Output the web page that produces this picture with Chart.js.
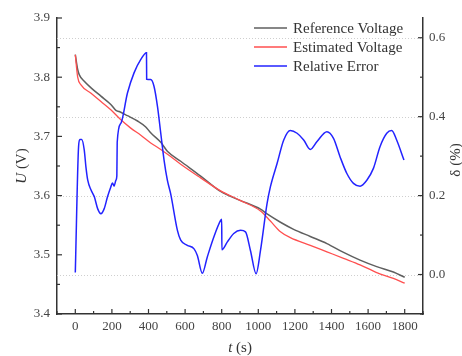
<!DOCTYPE html>
<html>
<head>
<meta charset="utf-8">
<script src="https://cdn.jsdelivr.net/npm/chart.js@4/dist/chart.umd.min.js"></script>
<style>
  html, body { margin: 0; padding: 0; background: #fff; }
  #wrap { width: 462px; height: 356px; }
</style>
</head>
<body>
<div id="wrap"><canvas id="voltChart" width="462" height="356"></canvas></div>
<script>
// values: time in s, voltage in V, error in %
const tRef = [0, 13, 22, 49, 86, 140, 194, 222, 240, 285, 340, 385, 412, 467, 503, 576, 685, 794, 900, 1012, 1048, 1121, 1193, 1284, 1375, 1466, 1556, 1647, 1738, 1800];
const uRef = [3.838, 3.813, 3.804, 3.793, 3.782, 3.768, 3.754, 3.744, 3.742, 3.735, 3.726, 3.716, 3.706, 3.690, 3.675, 3.658, 3.633, 3.607, 3.592, 3.577, 3.569, 3.555, 3.543, 3.531, 3.519, 3.504, 3.491, 3.480, 3.471, 3.462];

const tEst = [0, 13, 31, 86, 140, 194, 249, 303, 358, 412, 467, 521, 576, 685, 794, 900, 1012, 1066, 1121, 1175, 1284, 1375, 1466, 1556, 1647, 1738, 1800];
const uEst = [3.838, 3.800, 3.787, 3.773, 3.759, 3.745, 3.728, 3.714, 3.702, 3.689, 3.678, 3.666, 3.653, 3.630, 3.608, 3.592, 3.574, 3.557, 3.539, 3.529, 3.516, 3.505, 3.494, 3.483, 3.470, 3.460, 3.452];

const tErr = [0, 18, 25, 35, 49, 58, 68, 86, 104, 122, 140, 158, 176, 194, 203, 212, 222, 227, 229, 249, 285, 321, 358, 389, 390, 412, 430, 449, 467, 485, 503, 521, 558, 576, 612, 649, 667, 694, 721, 757, 794, 800, 801, 830, 866, 903, 930, 957, 988, 1012, 1048, 1066, 1103, 1139, 1175, 1212, 1248, 1284, 1321, 1375, 1411, 1447, 1484, 1520, 1556, 1593, 1629, 1665, 1702, 1729, 1756, 1796];
const errPct = [0.005, 0.325, 0.342, 0.342, 0.315, 0.273, 0.239, 0.214, 0.197, 0.167, 0.154, 0.167, 0.197, 0.222, 0.232, 0.224, 0.239, 0.25, 0.335, 0.383, 0.46, 0.511, 0.545, 0.562, 0.495, 0.494, 0.477, 0.426, 0.358, 0.29, 0.239, 0.205, 0.112, 0.087, 0.074, 0.065, 0.048, 0.003, 0.044, 0.095, 0.137, 0.14, 0.063, 0.082, 0.104, 0.112, 0.108, 0.061, 0.002, 0.061, 0.18, 0.222, 0.282, 0.341, 0.365, 0.358, 0.341, 0.317, 0.337, 0.362, 0.345, 0.298, 0.256, 0.231, 0.224, 0.239, 0.269, 0.324, 0.358, 0.365, 0.341, 0.29];

const seriesNames = ["Reference Voltage", "Estimated Voltage", "Relative Error"];
const tTicks = [0, 200, 400, 600, 800, 1000, 1200, 1400, 1600, 1800];
const uTicks = [3.4, 3.5, 3.6, 3.7, 3.8, 3.9];
const errTicks = [0.0, 0.2, 0.4, 0.6];

const serif = '"Liberation Serif", "Times New Roman", serif';
const axisCol = "#333";

function pts(xs, ys) {
  return xs.map((x, i) => ({ x: x, y: ys[i] }));
}
function midpoints(arr, lo, hi) {
  const step = arr[1] - arr[0];
  const out = [];
  for (let v = arr[0] - step / 2; v <= arr[arr.length - 1] + step / 2 + 1e-9; v += step) {
    if (v >= lo - 1e-9 && v <= hi + 1e-9) out.push(v);
  }
  return out;
}

// gridlines, inward ticks, axis titles and legend
const decor = {
  id: "decor",
  beforeDatasetsDraw(chart) {
    const ctx = chart.ctx;
    const a = chart.chartArea;
    const sd = chart.scales.y1;
    ctx.save();
    ctx.strokeStyle = "#cfcfcf";
    ctx.lineWidth = 1;
    ctx.setLineDash([1, 2]);
    errTicks.forEach(v => {
      const y = Math.round(sd.getPixelForValue(v)) + 0.5;
      ctx.beginPath();
      ctx.moveTo(a.left, y);
      ctx.lineTo(a.right, y);
      ctx.stroke();
    });
    ctx.restore();
  },
  afterDraw(chart) {
    const ctx = chart.ctx;
    const a = chart.chartArea;
    const sx = chart.scales.x, sy = chart.scales.y, sd = chart.scales.y1;
    ctx.save();
    ctx.strokeStyle = axisCol;
    ctx.lineWidth = 1.2;
    const tickX = (vals, len) => vals.forEach(v => {
      const x = sx.getPixelForValue(v);
      ctx.beginPath(); ctx.moveTo(x, a.bottom); ctx.lineTo(x, a.bottom - len); ctx.stroke();
    });
    const tickY = (scale, vals, len, side) => vals.forEach(v => {
      const y = scale.getPixelForValue(v);
      const x0 = side === "left" ? a.left : a.right;
      const dir = side === "left" ? 1 : -1;
      ctx.beginPath(); ctx.moveTo(x0, y); ctx.lineTo(x0 + dir * len, y); ctx.stroke();
    });
    tickX(tTicks, 5);
    tickX(midpoints(tTicks, sx.min, sx.max), 3);
    tickY(sy, uTicks, 5, "left");
    tickY(sy, midpoints(uTicks, sy.min, sy.max), 3, "left");
    tickY(sd, errTicks, 5, "right");
    tickY(sd, midpoints(errTicks, sd.min, sd.max), 3, "right");

    // axis titles
    ctx.fillStyle = "#333";
    ctx.textBaseline = "middle";
    const fUp = "15px " + serif, fIt = "italic 15px " + serif;
    const mixed = (parts, cx, cy, rot) => {
      let w = 0;
      parts.forEach(p => { ctx.font = p[1]; w += ctx.measureText(p[0]).width; });
      ctx.save();
      ctx.translate(cx, cy);
      ctx.rotate(rot);
      let x = -w / 2;
      ctx.textAlign = "left";
      parts.forEach(p => { ctx.font = p[1]; ctx.fillText(p[0], x, 0); x += ctx.measureText(p[0]).width; });
      ctx.restore();
    };
    mixed([["t", fIt], [" (s)", fUp]], (a.left + a.right) / 2, 348, 0);
    mixed([["U", fIt], [" (V)", fUp]], 22, (a.top + a.bottom) / 2, -Math.PI / 2);
    mixed([["δ (%)", fUp]], 456, 160, -Math.PI / 2);

    // legend
    ctx.font = fUp;
    ctx.textAlign = "left";
    chart.data.datasets.forEach((ds, i) => {
      const y = 28 + i * 19;
      ctx.strokeStyle = ds.borderColor;
      ctx.lineWidth = 1.5;
      ctx.beginPath(); ctx.moveTo(254, y); ctx.lineTo(287, y); ctx.stroke();
      ctx.fillStyle = "#333";
      ctx.fillText(ds.label, 293, y + 1);
    });
    ctx.restore();
  }
};

const tickFont = { family: serif, size: 13 };

new Chart(document.getElementById("voltChart"), {
  type: "line",
  data: {
    datasets: [
      { label: seriesNames[0], data: pts(tRef, uRef), yAxisID: "y", borderColor: "#5f5f5f", borderWidth: 1.5, order: 2 },
      { label: seriesNames[1], data: pts(tEst, uEst), yAxisID: "y", borderColor: "#ff4f4f", borderWidth: 1.3, order: 1 },
      { label: seriesNames[2], data: pts(tErr, errPct), yAxisID: "y1", borderColor: "#2323ff", borderWidth: 1.5, order: 0 }
    ]
  },
  options: {
    responsive: false,
    animation: false,
    events: [],
    layout: { padding: { top: 18, left: 0, right: 0, bottom: 0 } },
    elements: { point: { radius: 0 }, line: { cubicInterpolationMode: "monotone" } },
    plugins: { legend: { display: false }, tooltip: { enabled: false } },
    scales: {
      x: {
        type: "linear", min: -100, max: 1900,
        afterBuildTicks: s => { s.ticks = tTicks.map(v => ({ value: v })); },
        afterFit: s => { s.height = 42; },
        grid: { display: false, drawTicks: false },
        border: { display: true, color: axisCol, width: 1.5 },
        ticks: { font: tickFont, color: "#444", padding: 5, maxRotation: 0, callback: v => String(v) }
      },
      y: {
        type: "linear", position: "left", min: 3.4, max: 3.9,
        afterBuildTicks: s => { s.ticks = uTicks.map(v => ({ value: v })); },
        afterFit: s => { s.width = 57; },
        grid: { display: false, drawTicks: false },
        border: { display: true, color: axisCol, width: 1.5 },
        ticks: { font: tickFont, color: "#444", padding: 7, callback: v => v.toFixed(1) }
      },
      y1: {
        type: "linear", position: "right", min: -0.1, max: 0.65,
        afterBuildTicks: s => { s.ticks = errTicks.map(v => ({ value: v })); },
        afterFit: s => { s.width = 39; },
        grid: { display: false, drawTicks: false },
        border: { display: true, color: axisCol, width: 1.5 },
        ticks: { font: tickFont, color: "#444", padding: 6, callback: v => v.toFixed(1) }
      }
    }
  },
  plugins: [decor]
});
</script>
</body>
</html>
